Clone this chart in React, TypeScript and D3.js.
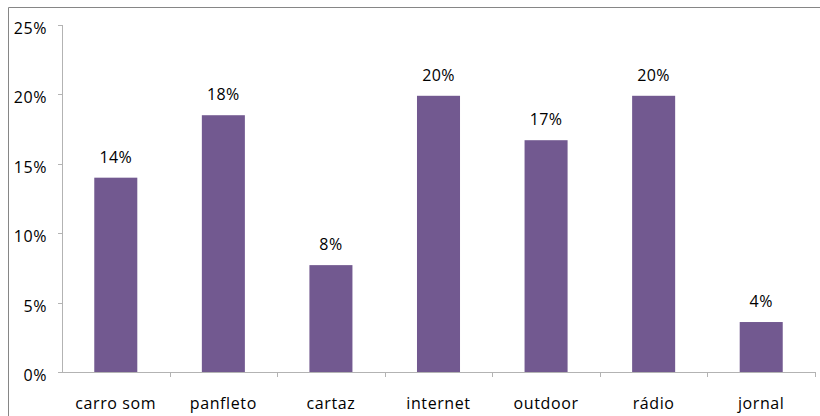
import React, { useEffect } from "react";
import * as d3 from "d3";

const categories = ["carro som", "panfleto", "cartaz", "internet", "outdoor", "rádio", "jornal"];
const values = [0.14, 0.185, 0.077, 0.199, 0.167, 0.199, 0.036];
const valueLabels = ["14%", "18%", "8%", "20%", "17%", "20%", "4%"];
const yTicks = [0, 0.05, 0.1, 0.15, 0.2, 0.25];

const W = 820;
const H = 416;
const margin = { left: 62, right: 5, top: 25, bottom: 44 };
const FONT = "'Open Sans', 'Noto Sans', sans-serif";

export default function App() {
  useEffect(() => {
    document.body.style.margin = "0";
  }, []);

  const x = d3
    .scaleBand<string>()
    .domain(categories)
    .range([margin.left, W - margin.right])
    .paddingInner(0.6)
    .paddingOuter(0.3);
  const xOuter = d3.scaleBand<string>().domain(categories).range([margin.left, W - margin.right]);
  const y = d3.scaleLinear().domain([0, 0.25]).range([H - margin.bottom, margin.top]);
  const fmt = d3.format(".0%");
  const y0 = y(0);

  return (
    <svg width={W} height={H} style={{ display: "block", background: "#fff" }}>
      <path d={`M8.5,${H}V7.5H${W}`} fill="none" stroke="#868686" strokeWidth={1} />
      {/* y axis */}
      <line x1={margin.left + 0.5} x2={margin.left + 0.5} y1={y(0.25)} y2={y0} stroke="#b3b3b3" />
      {yTicks.map((t) => (
        <g key={t}>
          <line x1={margin.left - 4} x2={margin.left} y1={Math.round(y(t)) + 0.5} y2={Math.round(y(t)) + 0.5} stroke="#b3b3b3" />
          <text
            x={47}
            y={y(t) + 9}
            textAnchor="end"
            fontFamily={FONT}
            fontSize={16}
            letterSpacing={0.6}
            fill="#000"
          >
            {fmt(t)}
          </text>
        </g>
      ))}
      {/* x axis */}
      <line x1={margin.left} x2={W - margin.right + 0.5} y1={Math.round(y0) + 0.5} y2={Math.round(y0) + 0.5} stroke="#b3b3b3" />
      {categories.map((c) => (
        <line
          key={"t" + c}
          x1={Math.round((xOuter(c) as number) + xOuter.bandwidth()) + 0.5}
          x2={Math.round((xOuter(c) as number) + xOuter.bandwidth()) + 0.5}
          y1={y0}
          y2={y0 + 5}
          stroke="#b3b3b3"
        />
      ))}
      {categories.map((c, i) => (
        <g key={c}>
          <rect x={x(c)} y={y(values[i])} width={x.bandwidth()} height={y0 - y(values[i])} fill="#725990" />
          <text
            x={(x(c) as number) + x.bandwidth() / 2}
            y={y(values[i]) - 15}
            textAnchor="middle"
            fontFamily={FONT}
            fontSize={16}
            letterSpacing={0.4}
            fill="#000"
          >
            {valueLabels[i]}
          </text>
          <text
            x={(xOuter(c) as number) + xOuter.bandwidth() / 2}
            y={409}
            textAnchor="middle"
            fontFamily={FONT}
            fontSize={16}
            letterSpacing={0.6}
            fill="#000"
          >
            {c}
          </text>
        </g>
      ))}
    </svg>
  );
}
